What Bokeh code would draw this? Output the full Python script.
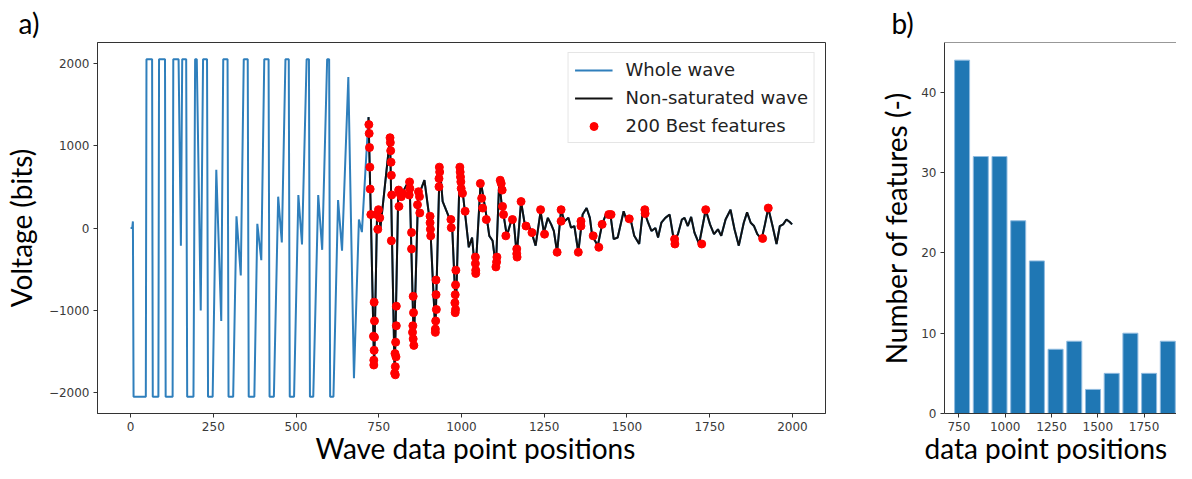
from bokeh.plotting import figure
from bokeh.models import Range1d, FixedTicker, Title, Span, Legend, LegendItem
from bokeh.layouts import row
from bokeh.embed import file_html
from bokeh.resources import INLINE

# ---------------- data ----------------
# saturated part of the whole wave (vertices)
sat_x = [0, 5, 7, 9, 46, 48, 65, 67, 84, 86, 104, 106, 127, 129, 145, 152, 156, 168, 171,
         190, 195, 200, 212, 219, 231, 234, 248, 259, 274, 280, 293, 296, 310, 320, 333,
         342, 354, 357, 374, 383, 395, 404, 417, 420, 433, 446, 457, 468, 478, 481, 494,
         507, 518, 532, 539, 542, 552, 567, 579, 594, 600, 603, 613, 627, 639, 658, 675,
         690, 699]
sat_y = [0, 0, 80, -2048, -2048, 2047, 2047, -2048, -2048, 2047, 2047, -2048, -2048, 2047,
         2047, -214, 2047, 2047, -2048, -2048, 2047, 2047, -1000, 2047, 2047, -2048, -2048,
         706, -1128, 2047, 2047, -2048, -2048, 142, -575, 2047, 2047, -2048, -2048, 50, -390,
         2047, 2047, -2048, -2048, 380, -175, 2047, 2047, -2048, -2048, 400, -200, 2047, 2047,
         -2048, -2048, 400, -265, 2047, 2047, -2048, -2048, 340, -275, 1830, -1822, 103, -50]

# non-saturated wave (vertices)
nonsat_x = [719, 726, 736, 745, 749, 755, 784, 798, 809, 815, 822, 843, 856, 869, 875, 888,
            903, 907, 921, 934, 943, 963, 972, 983, 995, 1010, 1022, 1032, 1042, 1058, 1077,
            1084, 1094, 1104, 1114, 1122, 1127, 1137, 1150, 1157, 1167, 1180, 1192, 1202,
            1212, 1224, 1239, 1249, 1261, 1271, 1279, 1289, 1301, 1311, 1323, 1331, 1341,
            1353, 1366, 1378, 1388, 1395, 1412, 1425, 1438, 1450, 1460, 1472, 1490, 1500,
            1510, 1522, 1537, 1549, 1564, 1574, 1586, 1594, 1604, 1616, 1629, 1642, 1654,
            1666, 1674, 1684, 1694, 1704, 1718, 1738, 1751, 1763, 1775, 1785, 1798, 1813,
            1825, 1838, 1853, 1863, 1874, 1884, 1894, 1907, 1917, 1927, 1940, 1952, 1962,
            1972, 1982, 1992, 1999]
nonsat_y = [1345, 163, -1702, 200, 242, 0, 1100, -1790, 450, 380, 430, 590, -1424, 421, 441,
            580, 123, -100, -1266, 760, 322, 123, 0, -1027, 758, 203, -234, -115, -560, 570,
            103, -95, -155, -472, 570, 262, 163, -95, 83, 123, -333, 321, 24, 44, -56, -214,
            202, -56, 123, 44, -36, -294, 222, 83, 123, 4, 24, -294, 163, 242, 123, -95, -214,
            44, 182, 163, -135, -115, 202, 83, 123, -95, -194, 242, 64, -36, 0, -115, 64, 123,
            163, -155, -75, 103, 123, 24, 135, -56, -194, 222, 44, -75, -16, -95, 103, 222,
            -16, -214, 64, 190, 64, 24, -75, -135, 44, 242, 24, -194, 24, 44, 103, 72, 44]

# best features (red dots)
feat_x = [720, 721, 722, 723, 724, 726, 734, 735, 735, 736, 736, 737, 737, 744, 747, 749, 753,
          784, 785, 786, 787, 788, 789, 788, 798, 799, 800, 800, 801, 802, 803, 803,
          810, 811, 814, 818, 822, 842, 843, 844, 849, 849, 852, 853, 854, 854, 855, 856,
          867, 870, 873, 874, 905, 905, 906, 907, 921, 921, 922, 923, 923, 924,
          932, 932, 933, 934, 968, 969, 980, 981, 981, 982, 982, 983,
          995, 996, 997, 998, 999, 1003, 1011, 1042, 1042, 1043, 1043,
          1057, 1061, 1064, 1075, 1104, 1106, 1107, 1117, 1120, 1123, 1124, 1127, 1134,
          1154, 1167, 1167, 1168, 1180, 1195, 1213, 1239, 1251, 1289, 1301, 1301, 1353,
          1361, 1361, 1398, 1415, 1425, 1445, 1452, 1507, 1554, 1555, 1644, 1645, 1726,
          1738, 1910, 1927]
feat_y = [1254, 1147, 976, 738, 472, 163, -1313, -1603, -1662, -900, -1484, -1127, -1325,
          163, -16, 222, 123, 1095, 1036, 937, 798, 639, 401, -155, -1761, -1523, -1682,
          -1781, -1385, -1563, -948, -1186, 460, 262, 420, 380, 420, 400, 559, 480, -55,
          -254, -1266, -1186, -829, -1345, -1027, -1424, 282, 440, 381, 183, 143, 63, -16,
          -95, -1226, -1266, -1127, -631, -809, -988, 599, 500, 738, 679, 103, 4, -908,
          -809, -1027, -690, -988, -512, 738, 679, 619, 560, 480, 421, 203, -353, -432,
          -512, -551, 540, 361, 242, 103, -472, -413, -353, 579, 540, 460, 262, 163, -95,
          103, -254, -313, -353, 321, 24, -56, 222, -75, -294, 222, 83, -294, 83, 24, -95,
          -234, 44, 163, 163, 111, 222, 175, -135, -194, -194, 222, -127, 242]

# histogram of the feature positions
bin_centers = [767, 868, 969, 1070, 1171, 1272, 1373, 1474, 1575, 1676, 1777, 1878]
bin_counts = [44, 32, 32, 24, 19, 8, 9, 3, 5, 10, 5, 9]

wave_xticks = [0, 250, 500, 750, 1000, 1250, 1500, 1750, 2000]
volt_yticks = [-2000, -1000, 0, 1000, 2000]
hist_xticks = [750, 1000, 1250, 1500, 1750]
hist_yticks = [0, 10, 20, 30, 40]

whole_x = sat_x + nonsat_x
whole_y = sat_y + nonsat_y

TICK_FONT = "DejaVu Sans"
LABEL_FONT = "Lato"
AX_COL = "#333333"


def style_axes(p):
    p.xgrid.visible = False
    p.ygrid.visible = False
    for ax in (p.xaxis, p.yaxis):
        ax.major_tick_in = 0
        ax.major_tick_out = 4
        ax.minor_tick_line_color = None
        ax.major_tick_line_color = AX_COL
        ax.axis_line_color = AX_COL
        ax.major_label_text_font = TICK_FONT
        ax.major_label_text_font_size = "12px"
        ax.major_label_text_color = "#3a3a3a"
        ax.major_label_standoff = 4
        ax.axis_label_text_font = LABEL_FONT
        ax.axis_label_text_font_size = "28px"
        ax.axis_label_text_font_style = "normal"
        ax.axis_label_text_color = "black"


def side_title(p, text, offset, place):
    p.add_layout(Title(text=text, align="left", offset=offset, text_font=LABEL_FONT,
                       text_font_size="28px", text_font_style="normal", text_color="black",
                       standoff=(6 if place == "above" else -10)), place)


# ---------------- panel a ----------------
p1 = figure(width=876, height=463, x_range=Range1d(-100, 2100), y_range=Range1d(-2250, 2250),
            output_backend="svg", toolbar_location=None,
            min_border_left=89, min_border_right=51, min_border_top=33, min_border_bottom=50)
style_axes(p1)
p1.outline_line_color = AX_COL
p1.xaxis.ticker = FixedTicker(ticks=wave_xticks)
p1.yaxis.ticker = FixedTicker(ticks=volt_yticks)
p1.yaxis.major_label_overrides = {t: str(t).replace("-", "\u2212") for t in volt_yticks}
p1.yaxis.axis_label = "Voltage (bits)"
p1.yaxis.axis_label_standoff = 8

r_whole = p1.line(whole_x, whole_y, line_color="#2f7fbc", line_width=2)
r_non = p1.line(nonsat_x, nonsat_y, line_color="#111111", line_width=2)
r_feat = p1.scatter(feat_x, feat_y, size=8, fill_color="#ff0000", line_color="#ff0000")

legend = Legend(items=[LegendItem(label="Whole wave", renderers=[r_whole]),
                       LegendItem(label="Non-saturated wave", renderers=[r_non]),
                       LegendItem(label="200 Best features", renderers=[r_feat])],
                location="top_right")
legend.margin = 10
legend.padding = 6
legend.spacing = 7
legend.glyph_width = 38
legend.glyph_height = 20
legend.label_height = 20
legend.label_standoff = 13
legend.label_text_font = TICK_FONT
legend.label_text_font_size = "18px"
legend.label_text_color = "#222222"
legend.border_line_color = "#cccccc"
legend.background_fill_alpha = 0.85
p1.add_layout(legend, "center")

side_title(p1, "Wave data point positions", 218, "below")
side_title(p1, "a)", -79, "above")

# ---------------- panel b ----------------
p2 = figure(width=300, height=463, x_range=Range1d(672, 1925), y_range=Range1d(0, 46.2),
            output_backend="svg", toolbar_location=None,
            min_border_left=62, min_border_right=0, min_border_top=33, min_border_bottom=50)
style_axes(p2)
p2.outline_line_color = None
p2.xaxis.ticker = FixedTicker(ticks=hist_xticks)
p2.yaxis.ticker = FixedTicker(ticks=hist_yticks)
p2.yaxis.axis_label = "Number of features (-)"
p2.yaxis.axis_label_standoff = 5
p2.vbar(x=bin_centers, top=bin_counts, width=81, bottom=0,
        fill_color="#1f77b4", line_color="#8fbbe0", line_width=1)
p2.add_layout(Span(location=46.2, dimension="width", line_color=AX_COL, line_width=1))
side_title(p2, "data point positions", -20, "below")
side_title(p2, "b)", -53, "above")

layout = row(p1, p2)
open("out.html", "w").write(file_html(layout, INLINE))
